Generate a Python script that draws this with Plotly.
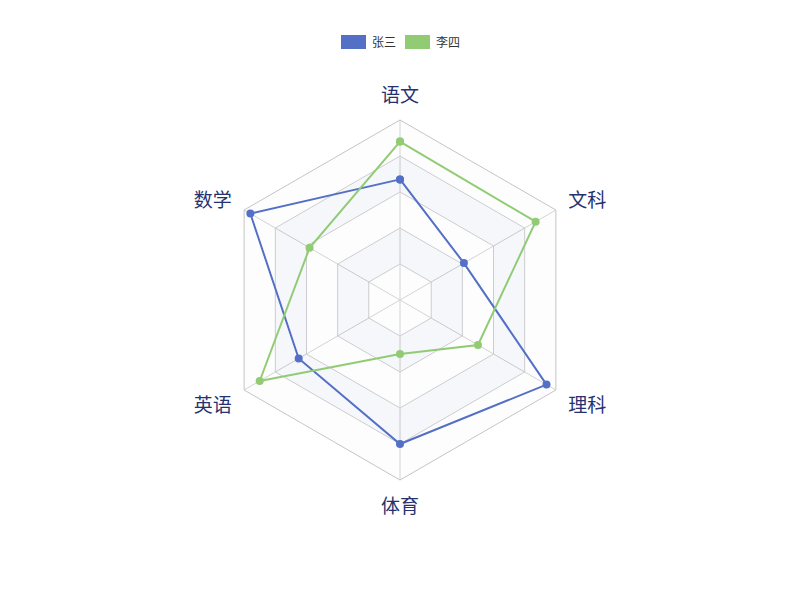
import plotly.graph_objects as go

# radar axes, clockwise from the top
subjects = ["语文", "文科", "理科", "体育", "英语", "数学"]
series_names = ["张三", "李四"]
zhangsan = [67, 41, 94, 80, 65, 96]
lisi = [88, 87, 50, 30, 90, 58]
colors = ["#5470c6", "#91cc75"]

max_value = 100
ring_levels = [20, 40, 60, 80, 100]

W, H = 800, 600
OFF = 8  # page body margin, figure starts 8px in


def px_x(x):
    return (x - OFF) / W


def px_y(y):
    return 1 - (y - OFF) / H


fig = go.Figure()

# alternating split areas, drawn as annulus fills (outer loop + reversed inner loop)
ring_colors = ["rgba(250,250,250,0.3)", "rgba(210,219,238,0.22)"]
closed = subjects + [subjects[0]]
inner = 0
for i, level in enumerate(ring_levels):
    r = [level] * len(closed) + [inner] * len(closed)
    theta = closed + closed[::-1]
    fig.add_trace(go.Scatterpolar(
        r=r, theta=theta, mode="lines", fill="toself",
        fillcolor=ring_colors[i % 2], line=dict(width=0),
        hoverinfo="skip", showlegend=False,
    ))
    inner = level

for name, values, color in zip(series_names, [zhangsan, lisi], colors):
    fig.add_trace(go.Scatterpolar(
        r=values + [values[0]], theta=closed, name=name,
        mode="lines+markers",
        line=dict(color=color, width=2),
        marker=dict(color=color, size=8),
        showlegend=False,
    ))

# legend in echarts style: colour boxes + labels
legend_x = [341, 405]
for name, color, x0 in zip(series_names, colors, legend_x):
    x1, y0, y1 = x0 + 25, 35, 49
    fig.add_shape(type="rect", xref="paper", yref="paper",
                  x0=px_x(x0), x1=px_x(x1), y0=px_y(y1), y1=px_y(y0),
                  fillcolor=color, line=dict(width=0))
    fig.add_annotation(x=px_x(x1 + 4), y=px_y(42), xref="paper", yref="paper",
                       text=name, showarrow=False, xanchor="left", yanchor="middle",
                       font=dict(size=12, color="#333"))

grid = "#c4c4c4"
fig.update_layout(
    width=W, height=H,
    margin=dict(l=0, r=0, t=0, b=0),
    paper_bgcolor="white",
    font=dict(family="Noto Sans CJK SC, sans-serif"),
    polar=dict(
        domain=dict(x=[px_x(220), px_x(580)], y=[px_y(480), px_y(120)]),
        gridshape="linear",
        bgcolor="white",
        radialaxis=dict(range=[0, max_value], tickvals=ring_levels,
                        showticklabels=False, ticks="", showline=False,
                        gridcolor=grid, gridwidth=1),
        angularaxis=dict(rotation=90, direction="clockwise",
                         categoryorder="array", categoryarray=subjects,
                         ticks="outside", ticklen=10, tickcolor="rgba(0,0,0,0)",
                         showline=True, linecolor=grid, gridcolor=grid,
                         tickfont=dict(size=19, color="#263270")),
    ),
)

fig.write_html("out.html")
